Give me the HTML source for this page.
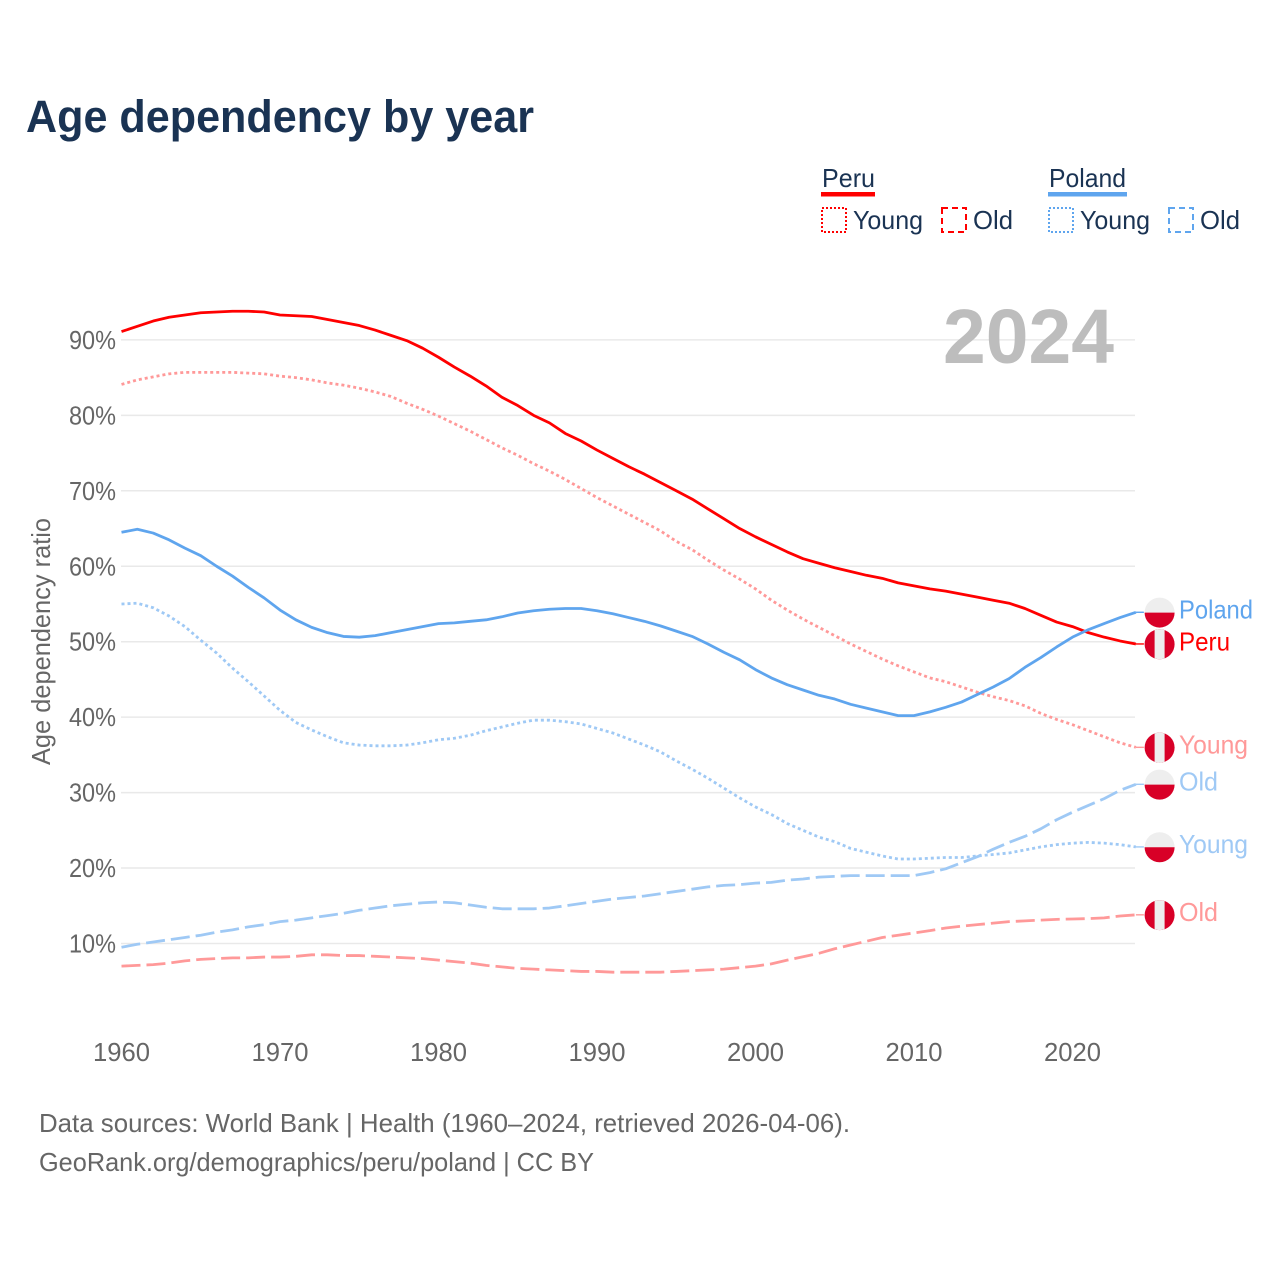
<!DOCTYPE html>
<html lang="en">
<head>
<meta charset="utf-8">
<title>Age dependency by year</title>
<style>
html,body{margin:0;padding:0;background:#fff;}
svg{display:block;}
text{font-family:"Liberation Sans",sans-serif;}
</style>
</head>
<body>
<svg id="chart" xmlns="http://www.w3.org/2000/svg" width="1280" height="1280" viewBox="0 0 1280 1280">
  <rect x="0" y="0" width="1280" height="1280" fill="#fff"/>
  <text x="26" y="132" font-size="45" font-weight="700" fill="#1a3353" textLength="508" lengthAdjust="spacingAndGlyphs">Age dependency by year</text>

  <g font-size="26" fill="#1a3353">
    <g>
      <text x="822" y="187" textLength="53" lengthAdjust="spacingAndGlyphs">Peru</text>
      <rect x="821" y="192" width="54" height="4.5" fill="#ff0000"/>
      <rect x="822" y="208" width="24" height="24" fill="none" stroke="#ff0000" stroke-width="2" stroke-dasharray="2,2"/>
      <text x="853" y="229" textLength="70" lengthAdjust="spacingAndGlyphs">Young</text>
      <rect x="942" y="208" width="24" height="24" fill="none" stroke="#ff0000" stroke-width="2" stroke-dasharray="6,4"/>
      <text x="973" y="229" textLength="40" lengthAdjust="spacingAndGlyphs">Old</text>
    </g>
    <g>
      <text x="1049" y="187" textLength="77" lengthAdjust="spacingAndGlyphs">Poland</text>
      <rect x="1048" y="192" width="79" height="4.5" fill="#5fa5ee"/>
      <rect x="1049" y="208" width="24" height="24" fill="none" stroke="#5fa5ee" stroke-width="2" stroke-dasharray="2,2"/>
      <text x="1080" y="229" textLength="70" lengthAdjust="spacingAndGlyphs">Young</text>
      <rect x="1169" y="208" width="24" height="24" fill="none" stroke="#5fa5ee" stroke-width="2" stroke-dasharray="6,4"/>
      <text x="1200" y="229" textLength="40" lengthAdjust="spacingAndGlyphs">Old</text>
    </g>
  </g>

  <g id="grid"></g>
  <text x="1114" y="363" font-size="77" font-weight="700" fill="#bdbdbd" text-anchor="end" textLength="171" lengthAdjust="spacingAndGlyphs">2024</text>
  <g id="yticks"></g>
  <g id="xticks"></g>
  <text transform="translate(50,641.5) rotate(-90)" font-size="26" fill="#666" text-anchor="middle" textLength="247" lengthAdjust="spacingAndGlyphs">Age dependency ratio</text>
  <g id="series"></g>
  <g id="ends"></g>

  <text x="39" y="1132" font-size="26" fill="#666" textLength="811" lengthAdjust="spacingAndGlyphs">Data sources: World Bank | Health (1960–2024, retrieved 2026-04-06).</text>
  <text x="39" y="1171" font-size="26" fill="#666" textLength="555" lengthAdjust="spacingAndGlyphs">GeoRank.org/demographics/peru/poland | CC BY</text>
</svg>
<script>
const firstYear = 1960;
const xTickYears = [1960, 1970, 1980, 1990, 2000, 2010, 2020];
const yTickValues = [10, 20, 30, 40, 50, 60, 70, 80, 90];

const peruTotal = [91.1,91.8,92.5,93.0,93.3,93.6,93.7,93.8,93.8,93.7,93.3,93.2,93.1,92.7,92.3,91.9,91.3,90.6,89.9,88.9,
  87.7,86.4,85.2,83.9,82.4,81.3,80.0,79.0,77.6,76.6,75.4,74.3,73.2,72.2,71.1,70.0,68.9,67.6,66.3,65.0,
  63.9,62.9,61.9,61.0,60.4,59.8,59.3,58.8,58.4,57.8,57.4,57.0,56.7,56.3,55.9,55.5,55.1,54.4,53.5,52.6,
  52.0,51.2,50.6,50.1,49.7];
const peruYoung = [84.1,84.7,85.1,85.5,85.7,85.7,85.7,85.7,85.6,85.5,85.2,85.0,84.7,84.3,84.0,83.6,83.1,82.5,81.6,80.8,
  79.9,78.9,77.9,76.8,75.7,74.7,73.6,72.6,71.5,70.3,69.1,68.0,66.9,65.8,64.7,63.3,62.2,60.8,59.5,58.3,
  57.0,55.5,54.2,53.0,51.9,50.8,49.7,48.7,47.7,46.8,46.0,45.2,44.7,44.0,43.3,42.7,42.2,41.5,40.5,39.7,
  39.0,38.2,37.4,36.6,36.0];
const peruOld = [7.0,7.1,7.2,7.4,7.7,7.9,8.0,8.1,8.1,8.2,8.2,8.3,8.5,8.5,8.4,8.4,8.3,8.2,8.1,8.0,
  7.8,7.6,7.4,7.1,6.9,6.7,6.6,6.5,6.4,6.3,6.3,6.2,6.2,6.2,6.2,6.3,6.4,6.5,6.6,6.8,
  7.0,7.3,7.8,8.25,8.7,9.3,9.8,10.3,10.8,11.1,11.4,11.7,12.05,12.3,12.5,12.7,12.9,13.0,13.1,13.2,
  13.25,13.3,13.4,13.65,13.8];
const polandTotal = [64.5,64.9,64.4,63.5,62.4,61.4,60.0,58.7,57.2,55.8,54.2,52.9,51.9,51.2,50.7,50.6,50.8,51.2,51.6,52.0,
  52.4,52.5,52.7,52.9,53.3,53.8,54.1,54.3,54.4,54.4,54.1,53.7,53.2,52.7,52.1,51.4,50.7,49.7,48.6,47.6,
  46.3,45.2,44.3,43.6,42.9,42.4,41.7,41.2,40.7,40.2,40.2,40.7,41.3,42.0,43.0,44.0,45.1,46.6,47.9,49.3,
  50.6,51.6,52.4,53.2,53.9];
const polandYoung = [55.0,55.1,54.5,53.4,52.0,50.2,48.5,46.5,44.7,42.8,40.9,39.3,38.3,37.4,36.6,36.3,36.2,36.2,36.3,36.6,
  37.0,37.2,37.6,38.2,38.7,39.2,39.6,39.6,39.4,39.1,38.5,37.9,37.1,36.3,35.4,34.2,33.1,31.9,30.6,29.3,
  28.1,27.1,25.9,25.0,24.1,23.5,22.6,22.1,21.6,21.2,21.2,21.3,21.4,21.4,21.6,21.8,22.0,22.4,22.8,23.1,
  23.3,23.4,23.3,23.1,22.8];
const polandOld = [9.5,9.9,10.2,10.5,10.8,11.1,11.5,11.8,12.2,12.5,12.9,13.1,13.4,13.7,14.0,14.4,14.7,15.0,15.2,15.4,
  15.5,15.4,15.1,14.8,14.6,14.6,14.6,14.7,15.0,15.3,15.6,15.9,16.1,16.3,16.6,16.9,17.2,17.5,17.7,17.8,
  18.0,18.1,18.4,18.55,18.8,18.9,19.0,19.0,19.0,19.0,19.0,19.4,19.9,20.7,21.5,22.5,23.4,24.2,25.2,26.4,
  27.4,28.3,29.2,30.3,31.1];

const seriesNames = ['peru-total','peru-young','peru-old','poland-total','poland-young','poland-old'];
const endLabels = ['Peru','Young','Old','Poland','Young','Old'];
const seriesValues = [peruTotal, peruYoung, peruOld, polandTotal, polandYoung, polandOld];

const NS = 'http://www.w3.org/2000/svg';
const xScale = function (year) { return 121.5 + (year - 1960) * 15.85; };
const yScale = function (v) { return 943.5 - (v - 10) * 7.545; };

const styleFor = {
  'peru-total':   { color: '#ff0000', dash: '' },
  'peru-young':   { color: '#ff9999', dash: '3,3' },
  'peru-old':     { color: '#ff9999', dash: '19,6' },
  'poland-total': { color: '#5fa5ee', dash: '' },
  'poland-young': { color: '#9fc9f5', dash: '3,3' },
  'poland-old':   { color: '#9fc9f5', dash: '19,6' }
};

function svgEl(tag, attrs, parent) {
  const el = document.createElementNS(NS, tag);
  for (const k in attrs) el.setAttribute(k, attrs[k]);
  parent.appendChild(el);
  return el;
}

const gridG = document.getElementById('grid');
const yG = document.getElementById('yticks');
yTickValues.forEach(function (v) {
  const line = svgEl('line', { x1: 121, x2: 1135, y1: yScale(v), y2: yScale(v), stroke: '#e9e9e9', 'stroke-width': 1.5 }, gridG);
  
  
  const t = svgEl('text', { x: 116, y: yScale(v) + 9, 'font-size': 26, fill: '#666', 'text-anchor': 'end', textLength: 47, lengthAdjust: 'spacingAndGlyphs' }, yG);
  
  
  t.textContent = v + '%';
});

const xG = document.getElementById('xticks');
xTickYears.forEach(function (yr) {
  const t = svgEl('text', { x: xScale(yr), y: 1061, 'font-size': 26, fill: '#666', 'text-anchor': 'middle', textLength: 57, lengthAdjust: 'spacingAndGlyphs' }, xG);
  
  
  t.textContent = String(yr);
});

const seriesG = document.getElementById('series');
const endsG = document.getElementById('ends');
const labelWidths = { Peru: 51, Poland: 74, Young: 69, Old: 39 };

seriesNames.forEach(function (name, i) {
  const vals = seriesValues[i];
  const st = styleFor[name];
  const d = vals.map(function (v, k) {
    return (k ? 'L' : 'M') + xScale(firstYear + k).toFixed(2) + ' ' + yScale(v).toFixed(2);
  }).join(' ');
  const p = svgEl('path', { d: d, fill: 'none', stroke: st.color, 'stroke-width': 2.8, 'stroke-linejoin': 'round' }, seriesG);
  if (st.dash) p.setAttribute('stroke-dasharray', st.dash);
  
  

  const lastX = xScale(firstYear + vals.length - 1);
  const lastY = yScale(vals[vals.length - 1]);
  const conn = svgEl('line', { x1: lastX, x2: lastX + 8, y1: lastY, y2: lastY, stroke: st.color, 'stroke-width': 1.4 }, endsG);
  
  

  const cx = 1159.6, cy = lastY + 0.3, r = 15;
  const isPeru = name.indexOf('peru') === 0;
  const flag = svgEl('g', {}, endsG);
  
  
  if (isPeru) {
    svgEl('circle', { cx: cx, cy: cy, r: r, fill: '#d80027' }, flag);
    const hw = 5;
    const hh = Math.sqrt(r * r - hw * hw);
    svgEl('path', {
      d: 'M' + (cx - hw) + ' ' + (cy - hh) + ' A' + r + ' ' + r + ' 0 0 1 ' + (cx + hw) + ' ' + (cy - hh) +
         ' L' + (cx + hw) + ' ' + (cy + hh) + ' A' + r + ' ' + r + ' 0 0 1 ' + (cx - hw) + ' ' + (cy + hh) + ' Z',
      fill: '#eeeeee'
    }, flag);
  } else {
    svgEl('circle', { cx: cx, cy: cy, r: r, fill: '#eeeeee' }, flag);
    svgEl('path', { d: 'M' + (cx - r) + ' ' + cy + ' A' + r + ' ' + r + ' 0 0 0 ' + (cx + r) + ' ' + cy + ' Z', fill: '#d80027' }, flag);
  }

  const txt = endLabels[i];
  const label = svgEl('text', { x: 1179, y: cy + 6, 'font-size': 26, fill: st.color, textLength: labelWidths[txt], lengthAdjust: 'spacingAndGlyphs' }, endsG);
  
  
  label.textContent = txt;
});
</script>
</body>
</html>
